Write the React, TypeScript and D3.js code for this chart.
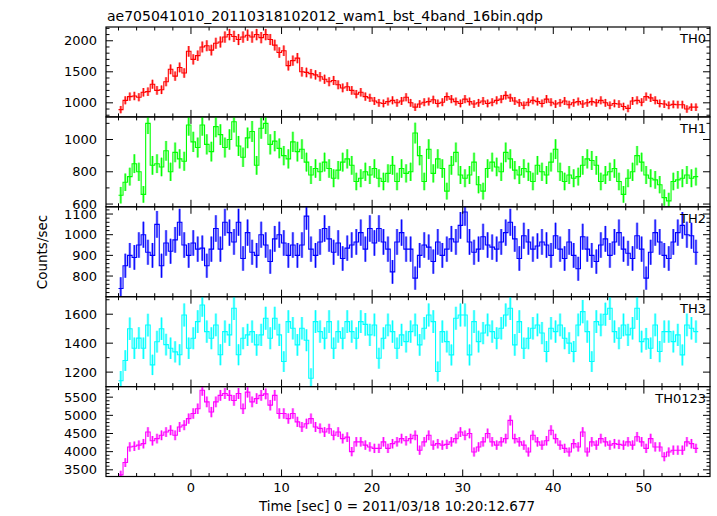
import React from "react";
import * as d3 from "d3";

const TITLE = "ae705041010_20110318102012_wam1_bst_4band_16bin.qdp";
const X_LABEL = "Time [sec] 0 = 2011/03/18 10:20:12.677";
const Y_LABEL = "Counts/sec";

const T_START = -8;
const BIN_SEC = 0.5;
const ERR_EXPOSURE = 0.25;

const X_TICKS = [0, 10, 20, 30, 40, 50];

const TH0 = [
  890, 1040, 1100, 1110, 1090, 1170, 1180, 1300, 1200, 1210, 1340, 1540, 1430, 1570, 1480, 1830,
  1700, 1760, 1900, 1920, 1850, 1960, 1980, 2060, 2100, 2070, 2020, 2060, 2090, 2060, 2100, 2050,
  2100, 2020, 1930, 1810, 1840, 1600, 1680, 1720, 1500, 1490, 1470, 1450, 1420, 1380, 1340, 1360,
  1290, 1240, 1260, 1200, 1140, 1170, 1100, 1080, 1030, 1000, 990, 1020, 1040, 1000, 1030, 1090,
  1000, 930, 980, 1010, 1020, 1050, 990, 1010, 1100, 1060, 1020, 990, 1060, 1020, 980, 1000,
  1030, 990, 1010, 1040, 1060, 1120, 1080, 1030, 1000, 960, 1010, 1040, 1020, 990, 1060, 1010,
  980, 1000, 1030, 970, 1000, 1020, 980, 1000, 1020, 1000, 1040, 1000, 960, 990, 980, 940,
  910, 1030, 1040, 1010, 1100, 1080, 1040, 990, 980, 960, 975, 970, 970, 900, 930, 930,
];

const TH1 = [
  655, 735, 770, 850, 800, 660, 1100, 840, 850, 830, 930, 800, 920, 880, 865, 1090,
  985, 950, 1090, 970, 925, 1080, 1030, 950, 1000, 1110, 960, 890, 1010, 1050, 840, 1070,
  1100, 970, 990, 945, 900, 880, 985, 925, 940, 860, 780, 820, 800, 860, 820, 760,
  810, 860, 880, 840, 740, 760, 800, 780, 820, 760, 740, 790, 840, 740, 820, 790,
  800, 1040, 900, 740, 940, 790, 880, 820, 680, 840, 920, 780, 760, 780, 860, 720,
  680, 820, 860, 830, 800, 920, 880, 810, 780, 820, 800, 740, 840, 800, 780, 860,
  940, 800, 740, 780, 760, 770, 840, 880, 870, 840, 740, 780, 800, 820, 740, 660,
  760, 800, 900, 860, 780, 760, 750, 720, 640, 620, 740, 750, 760, 780, 760, 770,
];

const TH2 = [
  740, 850, 900, 890, 950, 1000, 915, 900, 1050, 850, 960, 920, 975, 1060, 950, 900,
  960, 930, 935, 850, 930, 1030, 930, 1060, 1010, 965, 1060, 885, 1010, 915, 900, 1000,
  950, 870, 980, 1000, 960, 900, 950, 900, 950, 1090, 930, 900, 965, 1030, 980, 915,
  960, 885, 935, 950, 965, 1010, 930, 1030, 960, 1030, 965, 930, 820, 965, 1010, 930,
  930, 790, 900, 950, 940, 870, 965, 900, 930, 980, 965, 1045, 1110, 965, 915, 930,
  990, 950, 940, 930, 965, 1010, 1060, 980, 885, 995, 965, 930, 945, 965, 950, 900,
  995, 930, 885, 965, 900, 835, 990, 930, 900, 870, 950, 980, 900, 965, 1010, 930,
  910, 885, 995, 930, 790, 915, 1010, 965, 900, 885, 965, 1010, 1045, 1000, 995, 915,
];

const TH3 = [
  1140, 1280, 1500, 1365, 1435, 1365, 1525, 1250, 1410, 1500, 1390, 1365, 1340, 1320, 1595, 1365,
  1434, 1549, 1664, 1480, 1434, 1526, 1320, 1480, 1457, 1641, 1320, 1434, 1457, 1480, 1388, 1457,
  1572, 1434, 1572, 1457, 1273, 1549, 1503, 1388, 1503, 1420, 1158, 1549, 1480, 1434, 1549, 1365,
  1480, 1434, 1549, 1480, 1434, 1549, 1530, 1457, 1526, 1296, 1434, 1526, 1480, 1365, 1457, 1411,
  1480, 1526, 1388, 1503, 1595, 1549, 1204, 1480, 1411, 1319, 1572, 1595, 1595, 1319, 1549, 1411,
  1470, 1526, 1480, 1434, 1503, 1595, 1641, 1388, 1549, 1365, 1434, 1503, 1526, 1470, 1342, 1503,
  1480, 1526, 1434, 1400, 1342, 1526, 1618, 1480, 1273, 1549, 1526, 1600, 1641, 1480, 1434, 1526,
  1457, 1503, 1641, 1411, 1430, 1365, 1526, 1342, 1480, 1480, 1411, 1457, 1319, 1526, 1503, 1480,
];

const TH0123 = [
  3360, 3700, 4130, 4150, 4180, 4220, 4540, 4300, 4360, 4450, 4540, 4590, 4450, 4680, 4730, 4910,
  5050, 5180, 5690, 5370, 5090, 5370, 5550, 5600, 5550, 5410, 5600, 5180, 5640, 5370, 5460, 5550,
  5590, 5280, 5550, 5050, 5050, 4910, 5050, 4820, 4680, 4770, 4910, 4680, 4640, 4540, 4630, 4450,
  4540, 4360, 4400, 4000, 4270, 4270, 4180, 4130, 4090, 4090, 4270, 4090, 4220, 4270, 4360, 4300,
  4360, 4450, 4040, 4270, 4450, 4180, 4220, 4180, 4200, 4270, 4360, 4540, 4450, 4500, 3990, 4130,
  4270, 4500, 4270, 4180, 4270, 4360, 4860, 4360, 4270, 4180, 3990, 4450, 4270, 4180, 4300, 4590,
  4360, 4180, 4090, 3990, 4220, 4130, 4540, 3990, 4270, 4180, 4360, 4270, 4180, 4220, 4200, 4180,
  4270, 4180, 4410, 4270, 4090, 4360, 4130, 4130, 3860, 3990, 4040, 4040, 4040, 4270, 4220, 4090,
];

const TH0_TICKS = [1000, 1500, 2000];
const TH1_TICKS = [600, 800, 1000];
const TH2_TICKS = [800, 900, 1000, 1100];
const TH3_TICKS = [1200, 1400, 1600];
const TH0123_TICKS = [3500, 4000, 4500, 5000, 5500];

const PANELS = [
  { name: "TH0", values: TH0, color: "#ff0000", domain: [773, 2222], ticks: TH0_TICKS, minor: 100 },
  { name: "TH1", values: TH1, color: "#00ff00", domain: [583, 1140], ticks: TH1_TICKS, minor: 100 },
  { name: "TH2", values: TH2, color: "#0000ff", domain: [700, 1135], ticks: TH2_TICKS, minor: 20 },
  { name: "TH3", values: TH3, color: "#00ffff", domain: [1100, 1721], ticks: TH3_TICKS, minor: 100 },
  { name: "TH0123", values: TH0123, color: "#ff00ff", domain: [3316, 5791], ticks: TH0123_TICKS, minor: 100 },
];

const W = 717;
const H = 516;
const LEFT = 106;
const RIGHT = 710;
const TOP = 27;
const PANEL_H = 89.9;
const FONT = "'DejaVu Sans', sans-serif";

export default function App() {
  const x = d3.scaleLinear().domain([-9.38, 57.3]).range([LEFT, RIGHT]);
  const xMinor = d3.range(-8, 57, 2);

  return (
    <svg width={W} height={H} style={{ position: "absolute", left: 0, top: 0, background: "#fff" }}
      fontFamily={FONT}>
      <rect x={0} y={0} width={W} height={H} fill="#fff" />
      <text x={107} y={21} fontSize={14} fill="#000">{TITLE}</text>
      {PANELS.map((p, pi) => {
        const top = TOP + pi * PANEL_H;
        const bottom = top + PANEL_H;
        const y = d3.scaleLinear().domain(p.domain).range([bottom, top]);
        const minorTicks = d3.range(Math.ceil(p.domain[0] / p.minor) * p.minor, p.domain[1], p.minor);
        let ePath = "";
        let stepPath = "";
        p.values.forEach((v, i) => {
          const t0 = T_START + i * BIN_SEC;
          const tc = t0 + BIN_SEC / 2;
          const err = Math.sqrt(v / ERR_EXPOSURE);
          ePath += `M${x(tc)},${y(v - err)}V${y(v + err)}`;
          stepPath += (i === 0 ? "M" : "L") + `${x(t0)},${y(v)}H${x(t0 + BIN_SEC)}`;
        });
        const clipId = `clip${pi}`;
        return (
          <g key={p.name}>
            <clipPath id={clipId}>
              <rect x={LEFT} y={top} width={RIGHT - LEFT} height={PANEL_H} />
            </clipPath>
            <g clipPath={`url(#${clipId})`}>
              <path d={ePath} fill="none" stroke={p.color} strokeOpacity={0.45} strokeWidth={2.6} />
              <path d={stepPath} fill="none" stroke={p.color} strokeWidth={1.1} />
              <path d={ePath} fill="none" stroke={p.color} strokeWidth={1} />
            </g>
            {minorTicks.map((v) => {
              const major = p.ticks.includes(v);
              const len = major ? 7 : 3.5;
              return (
                <g key={v}>
                  <line x1={LEFT} x2={LEFT + len} y1={y(v)} y2={y(v)} stroke="#000" strokeWidth={1} />
                  <line x1={RIGHT} x2={RIGHT - len} y1={y(v)} y2={y(v)} stroke="#000" strokeWidth={1} />
                </g>
              );
            })}
            {p.ticks.map((v) => (
              <text key={v} x={97} y={y(v)} fontSize={13} textAnchor="end" dominantBaseline="central" fill="#000">
                {v}
              </text>
            ))}
            {xMinor.map((t) => {
              const major = t % 10 === 0;
              const len = major ? 7 : 3.5;
              return (
                <g key={t}>
                  <line x1={x(t)} x2={x(t)} y1={bottom} y2={bottom - len} stroke="#000" strokeWidth={1} />
                  <line x1={x(t)} x2={x(t)} y1={top} y2={top + len} stroke="#000" strokeWidth={1} />
                </g>
              );
            })}
            <rect x={LEFT} y={top} width={RIGHT - LEFT} height={PANEL_H} fill="none" stroke="#000" strokeWidth={1.2} />
            <text x={706} y={top + 16} fontSize={13} textAnchor="end" fill="#000">{p.name}</text>
          </g>
        );
      })}
      {X_TICKS.map((t) => (
        <text key={t} x={x(t)} y={492} fontSize={13} textAnchor="middle" fill="#000">{t}</text>
      ))}
      <text x={397} y={511} fontSize={13.5} textAnchor="middle" fill="#000">{X_LABEL}</text>
      <text transform={`translate(47,252) rotate(-90)`} fontSize={13.5} textAnchor="middle" fill="#000">{Y_LABEL}</text>
    </svg>
  );
}
